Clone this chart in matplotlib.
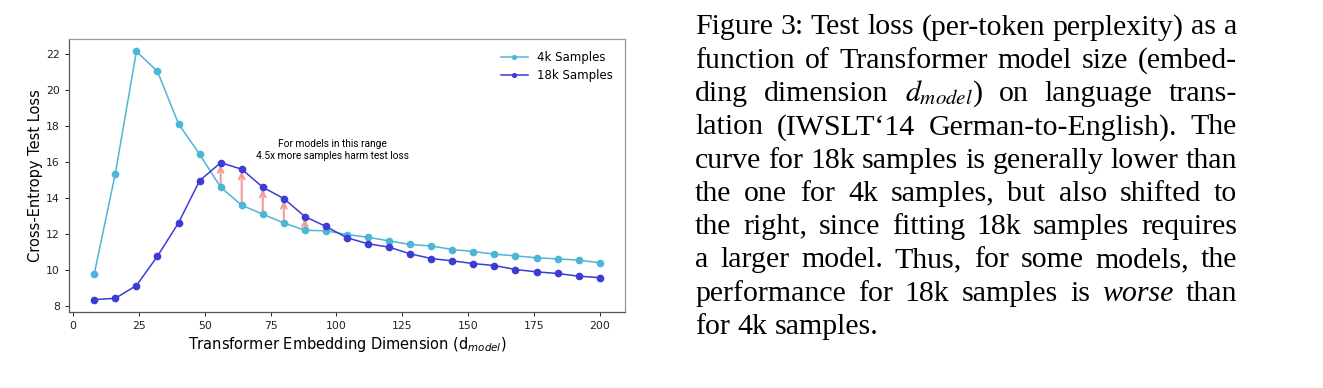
import matplotlib
matplotlib.use('Agg')
import matplotlib.pyplot as plt

# model sizes (embedding dimension)
d_model = [8, 16, 24, 32, 40, 48, 56, 64, 72, 80, 88, 96, 104, 112, 120, 128,
           136, 144, 152, 160, 168, 176, 184, 192, 200]
loss_4k = [9.80, 15.37, 22.15, 21.04, 18.13, 16.44, 14.61, 13.61, 13.11, 12.63,
           12.22, 12.19, 11.98, 11.83, 11.63, 11.43, 11.35, 11.15, 11.04, 10.89,
           10.80, 10.69, 10.63, 10.56, 10.41]
loss_18k = [8.37, 8.44, 9.15, 10.78, 12.63, 14.97, 15.97, 15.61, 14.61, 13.98,
            12.98, 12.43, 11.80, 11.47, 11.28, 10.91, 10.65, 10.52, 10.37, 10.26,
            10.04, 9.91, 9.82, 9.67, 9.59]
# sizes where more data hurts
arrow_idx = [6, 7, 8, 9, 10]

caption = [
    [("Figure", None), ("3:", None), ("Test", None), ("loss", None), ("(per-token", None),
     ("perplexity)", None), ("as", None), ("a", None)],
    [("function", None), ("of", None), ("Transformer", None), ("model", None),
     ("size", None), ("(embed-", None)],
    [("ding", None), ("dimension", None), (r"$d_{model}$)", None), ("on", None),
     ("language", None), ("trans-", None)],
    [("lation", None), ("(IWSLT\u201814", None), ("German-to-English).", None), ("The", None)],
    [("curve", None), ("for", None), ("18k", None), ("samples", None), ("is", None),
     ("generally", None), ("lower", None), ("than", None)],
    [("the", None), ("one", None), ("for", None), ("4k", None), ("samples,", None),
     ("but", None), ("also", None), ("shifted", None), ("to", None)],
    [("the", None), ("right,", None), ("since", None), ("fitting", None), ("18k", None),
     ("samples", None), ("requires", None)],
    [("a", None), ("larger", None), ("model.", None), ("Thus,", None), ("for", None),
     ("some", None), ("models,", None), ("the", None)],
    [("performance", None), ("for", None), ("18k", None), ("samples", None), ("is", None),
     ("worse", "italic"), ("than", None)],
    [("for", None), ("4k", None), ("samples.", None)],
]

c4 = '#4db6d4'
c18 = '#3c3cd4'

fig = plt.figure(figsize=(13.23, 3.88), dpi=100)
ax = fig.add_axes([69 / 1323, 1 - 312 / 388, (625 - 69) / 1323, (312 - 39) / 388])

for i in arrow_idx:
    ax.annotate('', xy=(d_model[i], loss_18k[i] - 0.12), xytext=(d_model[i], loss_4k[i]),
                arrowprops=dict(arrowstyle='->', color='#f59a9a', lw=1.5,
                                shrinkA=0, shrinkB=0), zorder=1)

ax.plot(d_model, loss_4k, '-o', color=c4, lw=1.1, ms=4.5, label='4k Samples', zorder=2)
ax.plot(d_model, loss_18k, '-o', color=c18, lw=1.1, ms=4.5, label='18k Samples', zorder=3)

ax.text(98.5, 16.7, 'For models in this range\n4.5x more samples harm test loss',
        ha='center', va='center', fontsize=7.3, family='Roboto', linespacing=1.25)

ax.set_yticks([8, 10, 12, 14, 16, 18, 20, 22])
ax.set_xticks([0, 25, 50, 75, 100, 125, 150, 175, 200])
ax.tick_params(labelsize=7.8, length=3, width=0.7, colors='#222222')
ax.set_xlabel(r'Transformer Embedding Dimension (d$_{model}$)', fontsize=10.5,
              labelpad=3, math_fontfamily='dejavusans')
ax.set_ylabel('Cross-Entropy Test Loss', fontsize=10.5, labelpad=2)
for s in ax.spines.values():
    s.set_color('#999999')
    s.set_linewidth(0.9)
ax.spines['left'].set_color('#555555')
ax.spines['bottom'].set_color('#555555')
ax.legend(loc='upper right', frameon=False, fontsize=8.5, markerscale=0.6,
          handlelength=2.3, borderaxespad=0.6, labelspacing=0.45)

# caption, justified line by line
left, right = 695, 1237
fig.canvas.draw()
renderer = fig.canvas.get_renderer()
for li, words in enumerate(caption):
    y = 1 - (34.3 + 33.3 * li) / 388
    objs = []
    for w, style in words:
        t = fig.text(0, y, w, fontsize=21.5, family='Liberation Serif',
                     style=style or 'normal', va='baseline', ha='left',
                     math_fontfamily='stix')
        objs.append(t)
    widths = [t.get_window_extent(renderer).width for t in objs]
    if li == len(caption) - 1:
        gap = renderer.points_to_pixels(21.5) * 0.25
    else:
        gap = (right - left - sum(widths)) / (len(objs) - 1)
    x = left
    for t, wd in zip(objs, widths):
        t.set_x(x / 1323)
        x += wd + gap

fig.savefig('out.png', dpi=100)
